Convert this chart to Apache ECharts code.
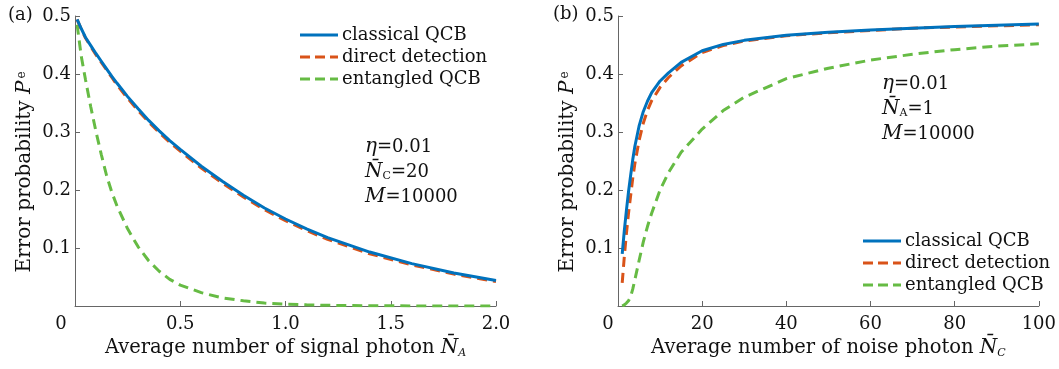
<!DOCTYPE html>
<html>
<head>
<meta charset="utf-8">
<script src="https://cdn.jsdelivr.net/npm/echarts@6/dist/echarts.min.js"></script>
<style>
  html, body { margin: 0; padding: 0; background: #fff; }
  #chart { width: 1059px; height: 369px; }
</style>
</head>
<body>
<div id="chart"></div>
<script>
// panel (a): error probability vs signal photon number
const signalN = [0.01, 0.03, 0.05, 0.075, 0.1, 0.125, 0.15, 0.175, 0.2, 0.25, 0.3, 0.35, 0.4, 0.45, 0.5, 0.6, 0.7, 0.8, 0.9, 1.0, 1.1, 1.2, 1.4, 1.6, 1.8, 2.0]
const aClassical = [0.494, 0.478, 0.463, 0.449, 0.435, 0.422, 0.409, 0.396, 0.384, 0.361, 0.340, 0.320, 0.302, 0.285, 0.270, 0.241, 0.215, 0.191, 0.169, 0.150, 0.133, 0.118, 0.093, 0.073, 0.057, 0.044]
const aDirect = [0.494, 0.477, 0.462, 0.447, 0.433, 0.420, 0.407, 0.394, 0.381, 0.358, 0.337, 0.317, 0.299, 0.282, 0.267, 0.238, 0.212, 0.188, 0.166, 0.147, 0.130, 0.115, 0.090, 0.071, 0.055, 0.042]
const aEntangled = [0.485, 0.43, 0.39, 0.343, 0.30, 0.261, 0.225, 0.196, 0.172, 0.133, 0.102, 0.078, 0.060, 0.046, 0.036, 0.023, 0.014, 0.009, 0.005, 0.003, 0.002, 0.0012, 0.0005, 0.0002, 0.0001, 0.00005]

// panel (b): error probability vs noise photon number
const noiseN = [1, 1.5, 2, 2.5, 3, 3.5, 4, 5, 6, 7, 8, 10, 12, 15, 20, 25, 30, 40, 50, 60, 70, 80, 90, 100]
const bClassical = [0.09, 0.13, 0.165, 0.197, 0.225, 0.252, 0.275, 0.31, 0.335, 0.353, 0.368, 0.388, 0.402, 0.42, 0.44, 0.451, 0.458, 0.467, 0.472, 0.476, 0.479, 0.482, 0.484, 0.486]
const bDirect = [0.04, 0.085, 0.125, 0.16, 0.19, 0.22, 0.245, 0.285, 0.315, 0.337, 0.354, 0.377, 0.394, 0.414, 0.437, 0.449, 0.457, 0.466, 0.471, 0.475, 0.479, 0.481, 0.483, 0.485]
const bEntangled = [0.0, 0.002, 0.005, 0.009, 0.016, 0.029, 0.045, 0.078, 0.11, 0.137, 0.16, 0.20, 0.23, 0.265, 0.305, 0.337, 0.36, 0.392, 0.41, 0.424, 0.434, 0.442, 0.448, 0.452]

const names = ['classical QCB', 'direct detection', 'entangled QCB']
const colors = ['#0072BD', '#D95319', '#66BB44']

const FONT = 'DejaVu Serif'
const AXIS_COLOR = '#666'

// legend keys: a solid bar and a dashed bar
const SOLID_ICON = 'path://M0,0H38V3H0Z'
const DASH_ICON = 'path://M0,0H10V3H0Z M15,0H25V3H15Z M30,0H38V3H30Z'

const pairs = (xs, ys) => xs.map((x, i) => [x, ys[i]])

const makeSeries = (idx, ys, xs, which) => ({
  name: names[which],
  type: 'line',
  xAxisIndex: idx,
  yAxisIndex: idx,
  data: pairs(xs, ys),
  showSymbol: false,
  symbol: 'none',
  smooth: false,
  z: 3 - which,
  lineStyle: {
    color: colors[which],
    width: 3,
    type: which === 0 ? 'solid' : [10, 6]
  },
  itemStyle: { color: colors[which] }
})

const subRich = {
  i: { fontFamily: FONT, fontStyle: 'italic', fontSize: 20, color: '#111' },
  s: { fontFamily: FONT, fontStyle: 'italic', fontSize: 11, color: '#111', padding: [10, 0, 0, 0] },
  u: { fontFamily: FONT, fontSize: 11, color: '#111', padding: [9, 0, 0, 0] },
  e: { fontFamily: FONT, fontSize: 12, color: '#111', padding: [0, 0, 6, 2] }
}

const xAxisBase = (idx, max, interval, shift, fmt) => ({
  type: 'value',
  gridIndex: idx,
  min: 0,
  max: max,
  interval: interval,
  name: idx === 0
    ? 'Average number of signal photon {i|N̄}{s|A}'
    : 'Average number of noise photon {i|N̄}{s|C}',
  nameLocation: 'middle',
  nameGap: 31,
  nameTextStyle: { fontFamily: FONT, fontSize: 19.5, color: '#111', rich: subRich },
  axisLine: { lineStyle: { color: AXIS_COLOR, width: 1 } },
  axisTick: { inside: true, length: 5, lineStyle: { color: AXIS_COLOR } },
  splitLine: { show: false },
  axisLabel: {
    margin: 9,
    fontFamily: FONT,
    fontSize: 18,
    color: '#111',
    formatter: v => v === 0 ? '{z|0}' : fmt(v),
    rich: { z: { fontFamily: FONT, fontSize: 18, color: '#111', padding: [0, shift, 0, 0] } }
  }
})

const yAxisBase = idx => ({
  type: 'value',
  gridIndex: idx,
  min: 0,
  max: 0.5,
  interval: 0.1,
  name: 'Error probability {i|P}{e|e}',
  nameLocation: 'middle',
  nameGap: 40,
  nameTextStyle: { fontFamily: FONT, fontSize: 20, color: '#111', rich: subRich, padding: [0, 22, 0, 0] },
  axisLine: { show: true, lineStyle: { color: AXIS_COLOR, width: 1 } },
  axisTick: { show: true, inside: true, length: 5, lineStyle: { color: AXIS_COLOR } },
  splitLine: { show: false },
  axisLabel: {
    margin: 4,
    fontFamily: FONT,
    fontSize: 18,
    color: '#111',
    formatter: v => v === 0 ? '' : v.toFixed(1)
  }
})

const legendBase = (left, top) => ({
  show: true,
  left: left,
  top: top,
  orient: 'vertical',
  align: 'left',
  itemWidth: 38,
  itemHeight: 3,
  itemGap: 4,
  selectedMode: false,
  data: names.map((n, k) => ({ name: n, icon: k === 0 ? SOLID_ICON : DASH_ICON })),
  textStyle: { fontFamily: FONT, fontSize: 18, color: '#111', padding: [0, 0, 0, -1] }
})

const note = (left, top, lines) => lines.map((t, k) => ({
  type: 'text',
  left: left,
  top: top + k * 25,
  style: {
    text: t,
    fontFamily: FONT,
    fontSize: 18,
    fill: '#111',
    rich: subRich
  }
}))

const chart = echarts.init(document.getElementById('chart'))

const option = {
  backgroundColor: '#fff',
  animation: false,
  grid: [
    { left: 75, top: 16, width: 421, height: 290 },
    { left: 618, top: 16, width: 422, height: 290 }
  ],
  xAxis: [
    xAxisBase(0, 2, 0.5, 28, v => v.toFixed(1)),
    xAxisBase(1, 100, 20, 20, v => String(v))
  ],
  yAxis: [yAxisBase(0), yAxisBase(1)],
  legend: [legendBase(295, 21), legendBase(858, 227)],
  graphic: [
    { type: 'text', left: 8, top: 6, style: { text: '(a)', fontFamily: FONT, fontSize: 18, fill: '#111' } },
    { type: 'text', left: 553, top: 5, style: { text: '(b)', fontFamily: FONT, fontSize: 18, fill: '#111' } },
    ...note(365, 137, ['{i|η}=0.01', '{i|N̄}{u|C}=20', '{i|M}=10000']),
    ...note(882, 74, ['{i|η}=0.01', '{i|N̄}{u|A}=1', '{i|M}=10000'])
  ],
  series: [
    makeSeries(0, aEntangled, signalN, 2),
    makeSeries(0, aDirect, signalN, 1),
    makeSeries(0, aClassical, signalN, 0),
    makeSeries(1, bEntangled, noiseN, 2),
    makeSeries(1, bDirect, noiseN, 1),
    makeSeries(1, bClassical, noiseN, 0)
  ]
}

chart.setOption(option)
</script>
</body>
</html>
